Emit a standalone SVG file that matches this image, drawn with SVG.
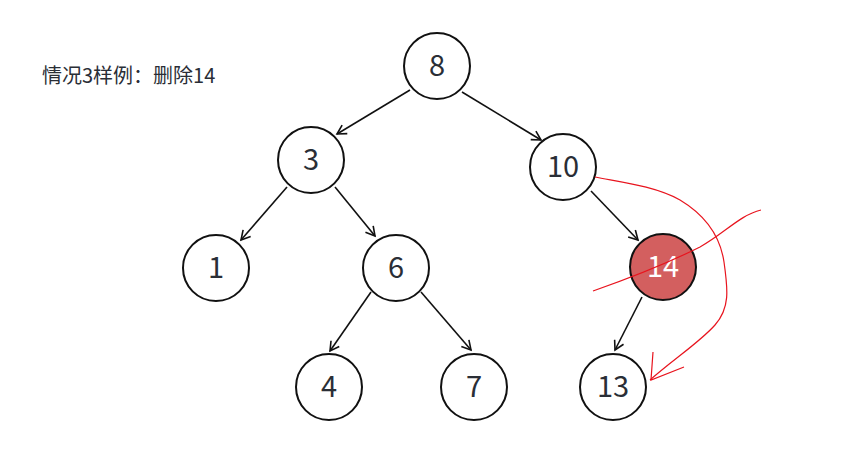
<svg xmlns="http://www.w3.org/2000/svg" width="842" height="459" viewBox="0 0 842 459">
<defs>
<marker id="arr" viewBox="0 0 12 12" refX="10" refY="6" markerWidth="12" markerHeight="12" markerUnits="userSpaceOnUse" orient="auto">
<path d="M1,1 L10,6 L1,11" fill="none" stroke="#111" stroke-width="1.6"/>
</marker>
<style>
.n{fill:#fff;stroke:#111;stroke-width:2}
.t{font-family:"Noto Sans CJK SC","Noto Sans",sans-serif;font-size:29px;fill:#2a2e36;text-anchor:middle}
.e{stroke:#111;stroke-width:1.6;fill:none;marker-end:url(#arr)}
.r{stroke:#e8141e;stroke-width:1.2;fill:none}
</style>
</defs>
<rect width="842" height="459" fill="#fff"/>
<text x="42" y="83" font-family="'Noto Sans CJK SC','Noto Sans',sans-serif" font-size="20" fill="#2a2e36">情况3样例：删除14</text>
<g id="connectors">
<line class="e" x1="410" y1="90" x2="337" y2="134"/>
<line class="e" x1="462" y1="92" x2="541" y2="140"/>
<line class="e" x1="287" y1="187" x2="241" y2="240"/>
<line class="e" x1="335" y1="187" x2="375" y2="236"/>
<line class="e" x1="591" y1="191" x2="638" y2="240"/>
<line class="e" x1="371" y1="292" x2="330" y2="351"/>
<line class="e" x1="421" y1="292" x2="471" y2="350"/>
<line class="e" x1="642" y1="297" x2="615" y2="350"/>
</g>
<g id="n8"><circle class="n" cx="437" cy="66" r="33"/><text class="t" x="437" y="76">8</text></g>
<g id="n3"><circle class="n" cx="311" cy="160" r="33"/><text class="t" x="311" y="170">3</text></g>
<g id="n10"><circle class="n" cx="563" cy="167" r="33"/><text class="t" x="563" y="177">10</text></g>
<g id="n1"><circle class="n" cx="216" cy="268" r="33"/><text class="t" x="216" y="278">1</text></g>
<g id="n6"><circle class="n" cx="396" cy="268" r="33"/><text class="t" x="396" y="278">6</text></g>
<g id="n14"><circle class="n" cx="663" cy="267" r="33" style="fill:#d35f5f"/><text class="t" x="663" y="277" style="fill:#fff">14</text></g>
<g id="n4"><circle class="n" cx="329" cy="387" r="33"/><text class="t" x="329" y="397">4</text></g>
<g id="n7"><circle class="n" cx="474" cy="387" r="33"/><text class="t" x="474" y="397">7</text></g>
<g id="n13"><circle class="n" cx="613" cy="387" r="33"/><text class="t" x="613" y="397">13</text></g>
<g id="annotations">
<path class="r" d="M595,177 C620,182 655,186 680,200 C705,215 720,235 724,262 C728,290 730,308 715,325 C700,342 675,358 650,380"/>
<path class="r" d="M653,352 L651,380 L684,367"/>
<path class="r" d="M593,291 C630,278 670,262 700,247 C725,233 740,215 761,210"/>
</g>
</svg>
